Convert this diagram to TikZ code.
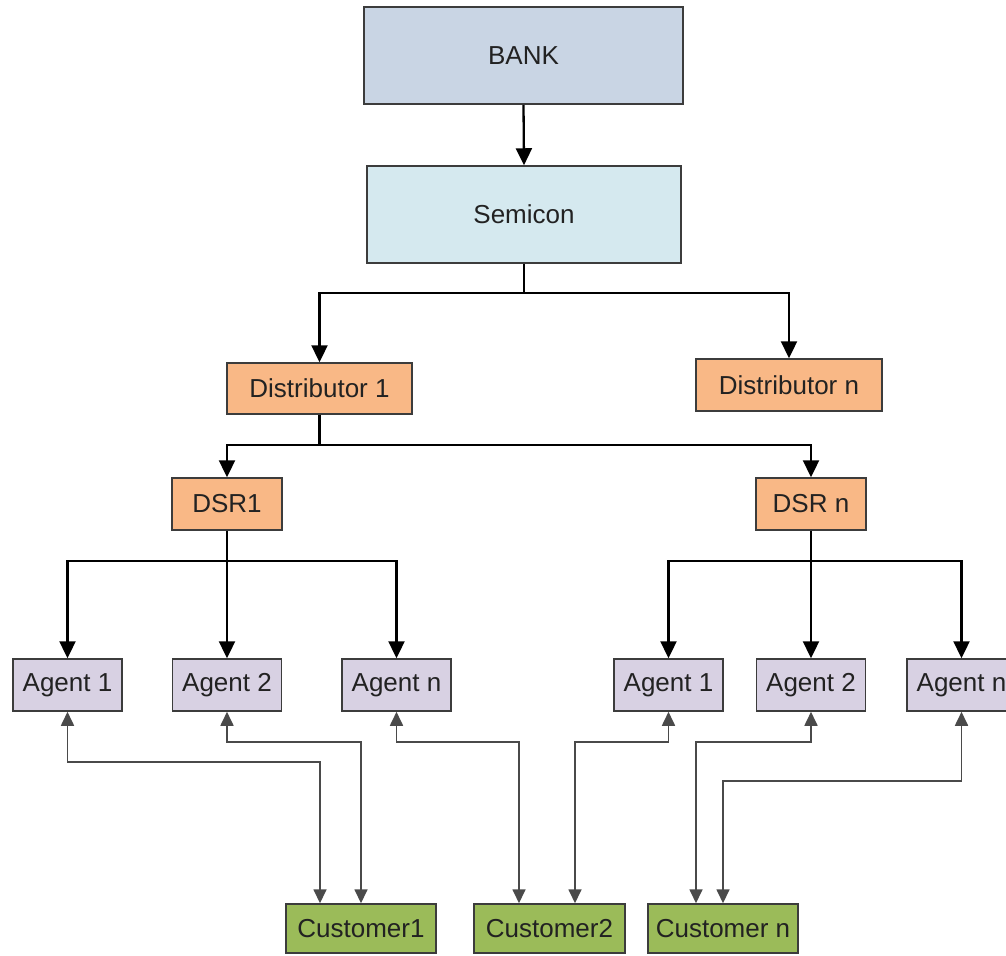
\documentclass[tikz,border=0pt]{standalone}
\usepackage{fontspec}
\setmainfont{Liberation Sans}
\usetikzlibrary{arrows.meta}
\definecolor{bankfill}{HTML}{C9D5E4}
\definecolor{semfill}{HTML}{D5E9EF}
\definecolor{orfill}{HTML}{F9B886}
\definecolor{agfill}{HTML}{D8D1E3}
\definecolor{cufill}{HTML}{9BBB59}
\definecolor{edge}{HTML}{3C3C3C}
\definecolor{txt}{HTML}{222222}
\definecolor{thin}{HTML}{4A4A4A}
\tikzset{
  box/.style={draw=edge, line width=0.75pt, text=txt, inner sep=0pt,
    font=\fontsize{13}{15}\selectfont},
  big/.style={box, minimum width=158pt, minimum height=48.5pt},
  orbox/.style={box, fill=orfill, minimum height=26pt},
  agbox/.style={box, fill=agfill, minimum width=54.5pt, minimum height=26pt},
  cubox/.style={box, fill=cufill, minimum width=75pt, minimum height=24.5pt},
  arr/.style={draw=black, line width=1.15pt, -{Triangle[length=8.5pt,width=8pt]}},
  bi/.style={draw=thin, line width=0.85pt, {Triangle[length=7pt,width=6.5pt]}-{Triangle[length=7pt,width=6.5pt]}}
}
\begin{document}
\begin{tikzpicture}[x=0.5pt,y=-0.5pt]
\useasboundingbox (0,0) rectangle (1006,955);
% top
\node[big, fill=bankfill, minimum width=159.5pt] (bank) at (523.5,55.5) {BANK};
\node[big, fill=semfill, minimum width=157pt] (sem) at (524,214.5) {Semicon};
% distributors
\node[orbox, minimum width=92.5pt, minimum height=25.5pt] (d1) at (319.5,388.5) {Distributor 1};
\node[orbox, minimum width=93pt] (dn) at (789,385) {Distributor n};
% DSRs
\node[orbox, minimum width=55pt] (s1) at (227,504) {DSR1};
\node[orbox, minimum width=55pt] (sn) at (811,504) {DSR n};
% agents
\node[agbox] (a1) at (67.5,685) {Agent 1};
\node[agbox] (a2) at (227,685) {Agent 2};
\node[agbox] (an) at (396.5,685) {Agent n};
\node[agbox] (b1) at (668.5,685) {Agent 1};
\node[agbox] (b2) at (811,685) {Agent 2};
\node[agbox] (bn) at (961.5,685) {Agent n};
% customers
\node[cubox] (c1) at (361,928.5) {Customer1};
\node[cubox, minimum width=75.5pt] (c2) at (549.5,928.5) {Customer2};
\node[cubox] (cn) at (723,928.5) {Customer n};
% bus levels
\coordinate (l1) at (0,293);
\coordinate (l2) at (0,445);
\coordinate (l3) at (0,561);
% main connectors
\draw[arr] (bank.south) -- (sem.north);
\draw[arr] (sem.south) -- (sem.south |- l1) -| (d1.north);
\draw[arr] (sem.south) -- (sem.south |- l1) -| (dn.north);
\draw[arr] (d1.south) -- (d1.south |- l2) -| (s1.north);
\draw[arr] (d1.south) -- (d1.south |- l2) -| (sn.north);
\draw[arr] (s1.south) -- (a2.north);
\draw[arr] (s1.south) -- (s1.south |- l3) -| (a1.north);
\draw[arr] (s1.south) -- (s1.south |- l3) -| (an.north);
\draw[arr] (sn.south) -- (b2.north);
\draw[arr] (sn.south) -- (sn.south |- l3) -| (b1.north);
\draw[arr] (sn.south) -- (sn.south |- l3) -| (bn.north);
% agent-customer links
\coordinate (k1) at (320,762);
\coordinate (k2) at (361,742);
\coordinate (k3) at (519,742);
\coordinate (k4) at (575,742);
\coordinate (k5) at (696,742);
\coordinate (k6) at (723,781);
\draw[bi] (a1.south) |- (k1) -- (k1 |- c1.north);
\draw[bi] (a2.south) |- (k2) -- (k2 |- c1.north);
\draw[bi] (an.south) |- (k3) -- (k3 |- c2.north);
\draw[bi] (b1.south) |- (k4) -- (k4 |- c2.north);
\draw[bi] (b2.south) |- (k5) -- (k5 |- cn.north);
\draw[bi] (bn.south) |- (k6) -- (k6 |- cn.north);
\end{tikzpicture}
\end{document}
